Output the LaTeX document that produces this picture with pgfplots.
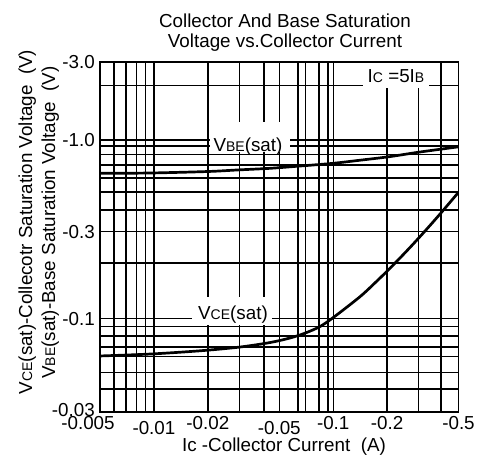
\documentclass[border=0pt]{standalone}
\usepackage{fontspec}
\setmainfont{Liberation Sans}
\usepackage{pgfplots}
\pgfplotsset{compat=1.18}

% small letters used as subscripts (CE, BE, C, B)
\newcommand\sub[1]{{\fontsize{14bp}{14bp}\selectfont #1}}

\begin{document}
\fontsize{18.8bp}{22bp}\selectfont
\begin{tikzpicture}
\path (0,0) rectangle (477bp,463bp);

\begin{axis}[
    at={(100bp,51.3bp)}, anchor=south west,
    scale only axis, width=358.5bp, height=349.7bp,
    xmode=log, ymode=log,
    xmin=0.005, xmax=0.5,
    ymin=0.03, ymax=3,
    xtick={0.005,0.01,0.02,0.05,0.1,0.2,0.5},
    xticklabels={\hspace*{-24bp}-0.005,\raisebox{-5bp}{-0.01},-0.02,\raisebox{-5bp}{-0.05},-0.1,-0.2,-0.5},
    minor xtick={0.006,0.007,0.008,0.009,0.03,0.0411,0.0636,0.07,0.0833,0.0935,0.3,0.4},
    ytick={0.03,0.1023,0.321,1.074,3},
    yticklabels={\raisebox{3bp}{-0.03},-0.1,-0.3,-1.0,-3.0},
    minor ytick={2.195,0.993,0.887,0.773,0.651,0.5414,0.4273,0.2126,0.0919,0.0813,0.0703,0.0621,0.0504,0.0404},
    grid=both,
    major grid style={black, line width=1.4bp},
    minor grid style={black, line width=1.4bp},
    major tick length=0pt, minor tick length=0pt,
    axis line style={black, line width=1.9bp},
    xticklabel style={anchor=base, inner sep=0pt, yshift=-17.5bp},
    yticklabel style={anchor=east, inner sep=0pt, xshift=-5bp},
]
% VBE(sat)
\addplot[black, line width=2.7bp, smooth] coordinates {
    (0.005,0.6926) (0.0095,0.6954) (0.0200,0.7094) (0.0302,0.7253)
    (0.0444,0.7398) (0.0653,0.7625) (0.0997,0.7901) (0.1411,0.8231)
    (0.2048,0.8618) (0.3050,0.9170) (0.5,0.9819)
};
% VCE(sat)
\addplot[black, line width=2.7bp, smooth] coordinates {
    (0.005,0.0625) (0.0095,0.0641) (0.01806,0.0669) (0.0302,0.0703)
    (0.0444,0.0746) (0.0574,0.0792) (0.0696,0.0844) (0.0844,0.0921)
    (0.1010,0.1044) (0.1411,0.1364) (0.1710,0.1636) (0.2075,0.1985)
    (0.2570,0.2490) (0.3050,0.3010) (0.3618,0.3662) (0.4114,0.4262)
    (0.5,0.5394)
};
\end{axis}

% labels, in picture pixels measured from the top left corner
\begin{scope}[shift={(0bp,463bp)}, x=1bp, y=-1bp]
  \fill[white] (210,122) rectangle (290,152);
  \node[anchor=base, inner sep=0pt] at (248,152) {V\sub{BE}(sat)};
  \fill[white] (192,297) rectangle (272,325);
  \node[anchor=base, inner sep=0pt] at (233,320) {V\sub{CE}(sat)};
  \fill[white] (363,63.5) rectangle (429,88);
  \node[anchor=base, inner sep=0pt] at (396,83) {I\sub{C} =5I\sub{B}};

  \node[anchor=base, inner sep=0pt] at (285,28) {Collector And Base Saturation};
  \node[anchor=base, inner sep=0pt] at (285,48) {Voltage vs.Collector Current};
  \node[anchor=base, inner sep=0pt] at (284,452) {Ic -Collector Current\ \ (A)};

  \node[anchor=base, inner sep=0pt, rotate=90] at (32,222) {V\sub{CE}(sat)-Collecotr Saturation Voltage\ \ (V)};
  \node[anchor=base, inner sep=0pt, rotate=90] at (55,222.5) {V\sub{BE}(sat)-Base Saturation Voltage\ \ (V)};
\end{scope}
\end{tikzpicture}
\end{document}
